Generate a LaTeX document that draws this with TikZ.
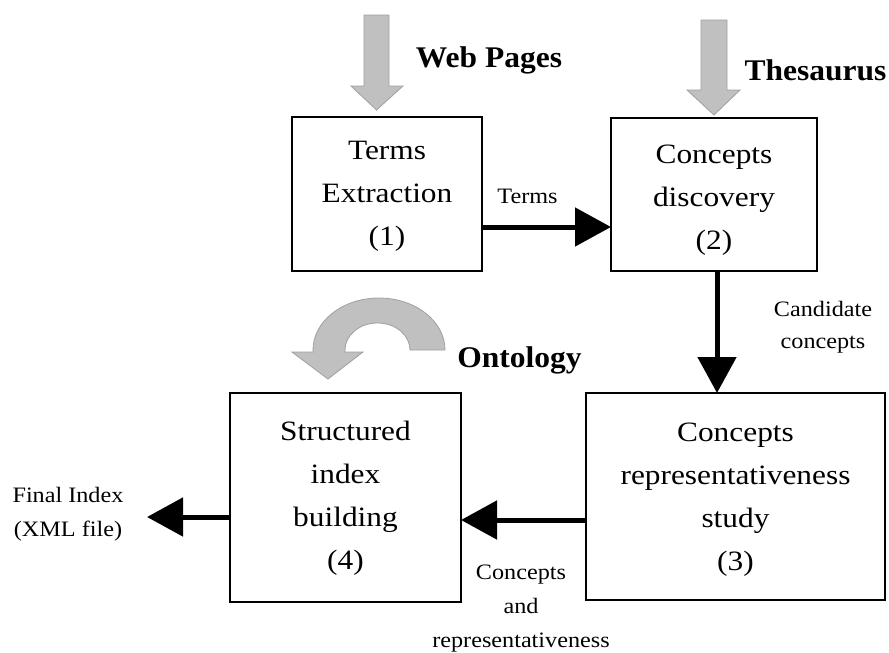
\documentclass[tikz,border=0pt]{standalone}
\usepackage{fontspec}
\setmainfont{Liberation Serif}
\newfontfamily\boxfont[FakeStretch=1.12]{Liberation Serif}
\newfontfamily\lblfont[FakeStretch=1.1]{Liberation Serif}
\newfontfamily\bigfont[FakeStretch=1.05]{Liberation Serif}
\usetikzlibrary{arrows.meta}
\definecolor{arrowgray}{RGB}{192,192,192}
\definecolor{arrowedge}{RGB}{160,160,160}
\tikzset{
  procbox/.style={draw, line width=1.8pt, inner sep=0pt, outer sep=0pt},
  boxtxt/.style={align=center, inner sep=0pt, font=\boxfont\fontsize{28}{43}\selectfont},
  flow/.style={line width=5pt, -{Triangle[length=36pt,width=38pt]}},
  lbl/.style={align=center, inner sep=0pt, font=\lblfont\fontsize{22}{34}\selectfont},
  biglbl/.style={inner sep=0pt, anchor=base, font=\bigfont\bfseries\fontsize{30}{36}\selectfont},
  grayarrow/.style={fill=arrowgray, draw=arrowedge, line width=0.8pt},
}
\begin{document}
\begin{tikzpicture}[x=1pt,y=-1pt]
\useasboundingbox (0,0) rectangle (889,653);

% boxes
\node[procbox, minimum width=190pt, minimum height=154pt,
  label={[boxtxt, yshift=-2pt]center:Terms\\Extraction\\(1)}] (b1) at (387,194) {};
\node[procbox, minimum width=206pt, minimum height=153pt,
  label={[boxtxt, yshift=-6pt]center:Concepts\\discovery\\(2)}] (b2) at (714,194.5) {};
\node[procbox, minimum width=299pt, minimum height=207pt,
  label={[boxtxt, yshift=-3pt]center:Concepts\\representativeness\\study\\(3)}] (b3) at (735.5,496.5) {};
\node[procbox, minimum width=231pt, minimum height=209pt,
  label={[boxtxt, yshift=-1pt]center:Structured\\index\\building\\(4)}] (b4) at (345.5,497.5) {};

% helper coordinates
\coordinate (y12) at (0,227);
\coordinate (x23) at (717,0);
\coordinate (y34) at (0,520);
\coordinate (yfin) at (0,517);
\coordinate (fin) at (147,517);

% black connectors
\draw[flow] (b1.east |- y12) -- (b2.west |- y12);
\draw[flow] (b2.south -| x23) -- (b3.north -| x23);
\draw[flow] (b3.west |- y34) -- (b4.east |- y34);
\draw[flow] (b4.west |- yfin) -- (fin);

% gray input arrows
\draw[grayarrow] (364,15) -- (389,15) -- (389,86) -- (403,86) -- (376.5,110) -- (351,86) -- (364,86) -- cycle;
\draw[grayarrow] (701,20) -- (727,20) -- (727,90) -- (740,90) -- (714,115) -- (687,90) -- (701,90) -- cycle;
% ontology curved arrow
\draw[grayarrow] (445,350) arc[start angle=0, end angle=-180, x radius=66, y radius=52]
  -- (313,352) -- (292,352) -- (328,379) -- (363,352) -- (345,352) -- (345,350)
  arc[start angle=-180, end angle=0, x radius=32.5, y radius=27] -- cycle;

% labels
\node[biglbl] (lweb) at (489,67) {Web Pages};
\node[biglbl] (lthes) at (815.5,80) {Thesaurus};
\node[biglbl] (lonto) at (519.5,367) {Ontology};

\node[lbl, anchor=base] (lterms) at (527.5,203) {Terms};
\node[lbl, font=\lblfont\fontsize{22}{32}\selectfont] (lcand) at (823,327) {Candidate\\concepts};
\node[lbl] (lconc) at (521,609) {Concepts\\and\\representativeness};
\node[lbl] (lfinal) at (68,514) {Final Index\\(XML file)};
\end{tikzpicture}
\end{document}
